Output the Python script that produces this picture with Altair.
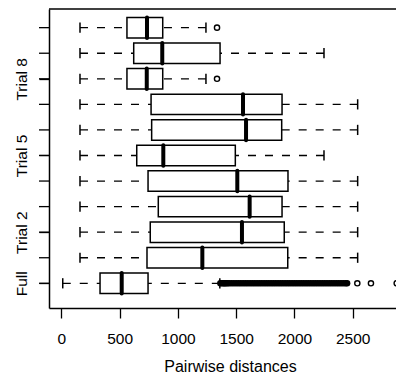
import altair as alt
import pandas as pd

categories = ["Full", "Trial 1", "Trial 2", "Trial 3", "Trial 4", "Trial 5",
              "Trial 6", "Trial 7", "Trial 8", "Trial 9", "Trial 10"]
shown_labels = ["Full", "Trial 2", "Trial 5", "Trial 8"]

whisker_low = [12, 160, 160, 160, 160, 160, 160, 160, 160, 160, 160]
q1 = [332, 735, 763, 832, 744, 647, 775, 770, 563, 621, 563]
median = [518, 1210, 1550, 1616, 1510, 875, 1585, 1559, 733, 866, 735]
q3 = [744, 1943, 1913, 1894, 1945, 1493, 1891, 1894, 870, 1362, 870]
whisker_high = [1360, 2543, 2543, 2543, 2543, 2254, 2543, 2543, 1241, 2254, 1241]

outlier_category = ["Trial 8", "Trial 10", "Full", "Full", "Full"]
outlier_value = [1336, 1336, 2540, 2657, 2878]

# dense run of overlapping outliers of the "Full" set
full_cluster = [1365, 1380, 1392, 1402, 1412, 1425, 1440, 1460, 1480, 1500,
                1520, 1540, 1560, 1580, 1600, 1620, 1640, 1660, 1680, 1700,
                1720, 1740, 1760, 1780, 1800, 1820, 1840, 1860, 1880, 1900,
                1920, 1940, 1960, 1980, 2000, 2020, 2040, 2060, 2080, 2100,
                2120, 2140, 2160, 2180, 2200, 2220, 2240, 2260, 2280, 2300,
                2320, 2340, 2360, 2380, 2400, 2420, 2440, 2452]

x_ticks = [0, 500, 1000, 1500, 2000, 2500]

positions = list(range(1, len(categories) + 1))
label_positions = [categories.index(c) + 1 for c in shown_labels]

stats = pd.DataFrame({
    "category": categories, "pos": positions, "lo": whisker_low,
    "q1": q1, "median": median, "q3": q3, "hi": whisker_high,
})
out_df = pd.DataFrame({
    "category": outlier_category, "value": outlier_value,
    "pos": [categories.index(c) + 1 for c in outlier_category],
})
cluster_df = pd.DataFrame({
    "value": full_cluster,
    "pos": [categories.index("Full") + 1] * len(full_cluster),
})

label_expr = "''"
for lab, p in reversed(list(zip(shown_labels, label_positions))):
    label_expr = f"datum.value == {p} ? '{lab}' : ({label_expr})"

x_scale = alt.Scale(domain=[-106, 2872], nice=False, zero=False)
y_scale = alt.Scale(domain=[0.034, 11.73], nice=False, zero=False)

x_axis = alt.Axis(
    values=x_ticks, format="d", title="Pairwise distances", grid=False,
    tickSize=10, tickWidth=1.3, tickColor="black",
    domain=True, domainColor="black", domainWidth=1.5,
    labelFontSize=15.5, labelColor="black", labelBaseline="alphabetic",
    labelPadding=25, labelFlush=False, labelOverlap=False,
    titleFontSize=16, titleFontWeight="normal", titleColor="black",
    titleBaseline="alphabetic", titleY=63.5, titleX=181, titleAlign="center",
)
y_axis = alt.Axis(
    values=label_positions, labelExpr=label_expr, title=None, grid=False,
    tickSize=10, tickWidth=1.3, tickColor="black",
    domain=True, domainColor="black", domainWidth=1.5,
    labelFontSize=15.5, labelColor="black", labelAngle=-90,
    labelAlign="center", labelBaseline="alphabetic", labelPadding=12.5,
    labelOverlap=False, labelBound=False,
)

base = alt.Chart(stats).transform_calculate(
    box_lo="datum.pos - 0.4", box_hi="datum.pos + 0.4",
    cap_lo="datum.pos - 0.2", cap_hi="datum.pos + 0.2",
)

dash = [8, 9]
whisk_lo = base.mark_rule(color="black", strokeWidth=1.3, strokeDash=dash).encode(
    x=alt.X("lo:Q", scale=x_scale, axis=x_axis), x2="q1:Q",
    y=alt.Y("pos:Q", scale=y_scale, axis=y_axis),
)
whisk_hi = base.mark_rule(color="black", strokeWidth=1.3, strokeDash=dash).encode(
    x=alt.X("hi:Q", scale=x_scale), x2="q3:Q",
    y=alt.Y("pos:Q", scale=y_scale),
)
cap_lo = base.mark_rule(color="black", strokeWidth=1.5).encode(
    x=alt.X("lo:Q", scale=x_scale),
    y=alt.Y("cap_lo:Q", scale=y_scale), y2="cap_hi:Q",
)
cap_hi = base.mark_rule(color="black", strokeWidth=1.5).encode(
    x=alt.X("hi:Q", scale=x_scale),
    y=alt.Y("cap_lo:Q", scale=y_scale), y2="cap_hi:Q",
)
# axis ticks for every row (labels are only drawn for some rows)
row_ticks = base.mark_rule(color="black", strokeWidth=1.3).encode(
    x=alt.value(-10), x2=alt.value(0),
    y=alt.Y("pos:Q", scale=y_scale),
)
box = base.mark_rect(fill="white", stroke="black", strokeWidth=1.5).encode(
    x=alt.X("q1:Q", scale=x_scale), x2="q3:Q",
    y=alt.Y("box_lo:Q", scale=y_scale), y2="box_hi:Q",
)
med = base.mark_rule(color="black", strokeWidth=4, strokeCap="round").encode(
    x=alt.X("median:Q", scale=x_scale),
    y=alt.Y("box_lo:Q", scale=y_scale), y2="box_hi:Q",
)
outliers = alt.Chart(out_df).mark_point(
    shape="circle", filled=False, size=27, strokeWidth=1.4, color="black", opacity=1
).encode(
    x=alt.X("value:Q", scale=x_scale),
    y=alt.Y("pos:Q", scale=y_scale),
)
cluster = alt.Chart(cluster_df).mark_circle(size=44, color="black", opacity=1).encode(
    x=alt.X("value:Q", scale=x_scale),
    y=alt.Y("pos:Q", scale=y_scale),
)
top_border = alt.Chart(pd.DataFrame({"v": [0]})).mark_rule(
    color="black", strokeWidth=1.5
).encode(y=alt.value(0), x=alt.value(0), x2=alt.value("width"))

chart = alt.layer(
    whisk_lo, whisk_hi, cap_lo, cap_hi, row_ticks, box, med, outliers, cluster,
    top_border,
).properties(
    width=347, height=299,
    padding={"left": 41, "top": 1, "right": 0, "bottom": 68},
    autosize=alt.AutoSizeParams(type="none"),
).configure(font="Liberation Sans").configure_view(stroke=None).configure_axis(
    labelOverlap=False
)

chart.save("out.html", embed_options={"renderer": "svg", "actions": False})
